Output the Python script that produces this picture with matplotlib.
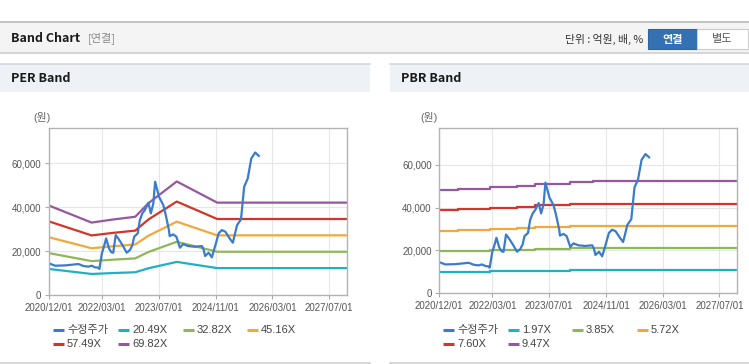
import matplotlib
matplotlib.use("Agg")
import matplotlib.pyplot as plt
from matplotlib.lines import Line2D
from matplotlib.patches import Rectangle
import pandas as pd

plt.rcParams['font.family'] = ['Liberation Sans', 'Noto Sans CJK KR', 'DejaVu Sans']

# ---------------- data ----------------
start_date = "2020-12-01"
end_date = "2027-12-01"
tick_labels = ["2020/12/01", "2022/03/01", "2023/07/01", "2024/11/01", "2026/03/01", "2027/07/01"]
y_ticks = [0, 20000, 40000, 60000]

# adjusted stock price (수정주가), month offsets from 2020-12-01
price_months = [0, 1.7, 4.5, 8.3, 9.7, 11.1, 12, 13, 13.9, 14.2, 14.9, 15.6, 16.1, 16.9,
                17.6, 18.1, 18.8, 19.5, 20.7, 21.9, 22.8, 23.5, 24, 25, 25.6, 26.3, 27,
                28, 28.7, 29.4, 29.9, 30.4, 31, 32.2, 32.8, 33.8, 34, 35, 35.9, 36.9,
                37.8, 39.2, 41.1, 43.1, 43.6, 44, 45, 45.9, 46.9, 47.8, 48.7, 49.7,
                50.9, 51.8, 53, 54.1, 55, 56, 57, 58.1, 59.1]
price_values = [14550, 13470, 13600, 14230, 13330, 13030, 13480, 12720, 12570, 11970,
                19090, 22860, 25900, 21360, 19540, 19390, 27410, 25900, 22860, 19390,
                20600, 22860, 26650, 28180, 34230, 37270, 38770, 42100, 37270, 41800,
                51640, 48640, 44850, 41050, 37270, 29680, 26950, 27700, 26650, 21660,
                23300, 22400, 22100, 22400, 20600, 17880, 19390, 17270, 22860, 28180,
                29680, 28930, 25900, 23930, 31960, 34530, 49370, 53160, 62260, 64990,
                63470]

# PER band: EPS basis (month offsets) and multiples
eps_months = [0, 12, 18, 24.3, 28, 36, 47.4, 84]
eps_values = [585, 474, 494, 512, 600, 742, 604, 604]
per_multiples = [20.49, 32.82, 45.16, 57.49, 69.82]
per_labels = ["20.49X", "32.82X", "45.16X", "57.49X", "69.82X"]

# PBR band: BPS basis (month offsets, step changes) and multiples
bps_months = [0, 5.2, 14.3, 21.8, 27, 36.8, 43.2, 84]
bps_values = [5100, 5160, 5240, 5300, 5400, 5465, 5510, 5510]
pbr_multiples = [1.97, 3.85, 5.72, 7.60, 9.47]
pbr_labels = ["1.97X", "3.85X", "5.72X", "7.60X", "9.47X"]

price_label = "수정주가"

# ---------------- style ----------------
W, H = 749, 364
price_color = "#3a7bcc"
band_colors = ["#1fb0c4", "#8fb75a", "#f0a93a", "#d2352b", "#9657a2"]


def fx(x):
    return x / W


def fy(y):
    return 1 - y / H


def to_dates(months):
    base = pd.Timestamp(start_date)
    return [base + pd.Timedelta(days=m * 30.4375) for m in months]


fig = plt.figure(figsize=(W / 100, H / 100), dpi=100)
fig.patch.set_facecolor("white")

# ---- top header ----
fig.add_artist(Rectangle((fx(0), fy(53)), 1, fy(22) - fy(53), transform=fig.transFigure,
                         facecolor="#f4f4f4", edgecolor="none", zorder=0))
fig.add_artist(Line2D([0, 1], [fy(22), fy(22)], transform=fig.transFigure, color="#b8b8b8", lw=1.2))
fig.add_artist(Line2D([0, 1], [fy(53), fy(53)], transform=fig.transFigure, color="#d6d6d6", lw=1.5))
fig.text(fx(11), fy(38), "Band Chart", fontsize=9, fontweight="bold", color="#1a1a1a",
         va="center", ha="left", family=["Noto Sans CJK KR"])
fig.text(fx(88), fy(38), "[연결]", fontsize=8, color="#8a8a8a", va="center", ha="left",
         family=["Noto Sans CJK KR"])
fig.text(fx(643), fy(39), "단위 : 억원, 배, %", fontsize=7.8, color="#333333", va="center",
         ha="right", family=["Noto Sans CJK KR"])
fig.add_artist(Rectangle((fx(648), fy(49)), fx(697) - fx(648), fy(29) - fy(49),
                         transform=fig.transFigure, facecolor="#3471b3", edgecolor="#2d65a3", lw=0.8))
fig.text(fx(672.5), fy(39), "연결", fontsize=8, fontweight="bold", color="white", va="center",
         ha="center", family=["Noto Sans CJK KR"])
fig.add_artist(Rectangle((fx(697), fy(49)), fx(748) - fx(697), fy(29) - fy(49),
                         transform=fig.transFigure, facecolor="white", edgecolor="#cccccc", lw=0.8))
fig.text(fx(722.5), fy(39), "별도", fontsize=8, color="#555555", va="center", ha="center",
         family=["Noto Sans CJK KR"])

# ---- panel headers / frames ----
for (x0, x1, title) in [(0, 370, "PER Band"), (390, 749, "PBR Band")]:
    fig.add_artist(Rectangle((fx(x0), fy(92)), fx(x1) - fx(x0), fy(64) - fy(92),
                             transform=fig.transFigure, facecolor="#eef2f7", edgecolor="none"))
    fig.add_artist(Line2D([fx(x0), fx(x1)], [fy(64), fy(64)], transform=fig.transFigure,
                          color="#d3d7dc", lw=1.2))
    fig.add_artist(Line2D([fx(x0), fx(x1)], [fy(363), fy(363)], transform=fig.transFigure,
                          color="#cfcfcf", lw=1.2))
    fig.text(fx(x0 + 11), fy(79), title, fontsize=9, fontweight="bold", color="#1a1a1a",
             va="center", ha="left", family=["Noto Sans CJK KR"])

price_dates = to_dates(price_months)
eps_dates = to_dates(eps_months)
bps_dates = to_dates(bps_months)
tick_dates = [pd.Timestamp(t.replace("/", "-")) for t in tick_labels]


def setup_axes(ax, ymax):
    ax.set_xlim(pd.Timestamp(start_date), pd.Timestamp(end_date))
    ax.set_ylim(0, ymax)
    ax.set_xticks(tick_dates)
    ax.set_xticklabels(tick_labels)
    ax.set_yticks(y_ticks)
    ax.set_yticklabels([f"{v:,}" for v in y_ticks])
    ax.grid(True, color="#e6e6e6", lw=0.8)
    ax.set_axisbelow(True)
    for s in ax.spines.values():
        s.set_color("#b3b3b3")
        s.set_linewidth(1.0)
    ax.tick_params(axis="both", length=3, width=0.8, color="#aaaaaa", labelcolor="#555555",
                   labelsize=7, pad=2.5)


# ---- PER axes ----
ax1 = fig.add_axes([fx(49), fy(295.3), fx(347) - fx(49), fy(128.3) - fy(295.3)])
setup_axes(ax1, 76000)
for mult, col in zip(per_multiples, band_colors):
    ax1.plot(eps_dates, [e * mult for e in eps_values], color=col, lw=1.6, solid_capstyle="butt")
ax1.plot(price_dates, price_values, color=price_color, lw=1.6)

# ---- PBR axes ----
ax2 = fig.add_axes([fx(439.3), fy(293.3), fx(737.3) - fx(439.3), fy(128.3) - fy(293.3)])
setup_axes(ax2, 77000)
for mult, col in zip(pbr_multiples, band_colors):
    ax2.plot(bps_dates, [b * mult for b in bps_values], color=col, lw=1.6, drawstyle="steps-post")
ax2.plot(price_dates, price_values, color=price_color, lw=1.6)

# ---- unit labels ----
fig.text(fx(33), fy(118), "(원)", fontsize=7.8, color="#666666", va="center", ha="left")
fig.text(fx(420), fy(118), "(원)", fontsize=7.8, color="#666666", va="center", ha="left")

# ---- legends (manual) ----
def draw_legend(x_handles, labels, colors):
    rows_y = [330, 344.3]
    for i, (lab, col) in enumerate(zip(labels, colors)):
        r, c = divmod(i, 4)
        xh = x_handles[c]
        y = rows_y[r]
        fig.add_artist(Line2D([fx(xh), fx(xh + 11)], [fy(y), fy(y)], transform=fig.transFigure,
                              color=col, lw=2.2, solid_capstyle="butt"))
        fig.text(fx(xh + 14), fy(y), lab, fontsize=8, color="#444444", va="center", ha="left")


draw_legend([53, 118, 183, 247], [price_label] + per_labels, [price_color] + band_colors)
draw_legend([443, 508, 572, 637], [price_label] + pbr_labels, [price_color] + band_colors)

fig.savefig("out.png", dpi=100)
